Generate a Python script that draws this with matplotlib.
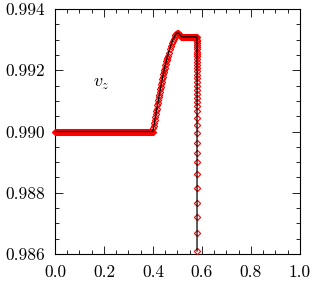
import numpy as np
import matplotlib
matplotlib.use("Agg")
import matplotlib.pyplot as plt
from matplotlib.ticker import MultipleLocator

plt.rcParams["font.family"] = "serif"
plt.rcParams["font.serif"] = ["cmr10", "DejaVu Serif"]
plt.rcParams["mathtext.fontset"] = "cm"
plt.rcParams["axes.unicode_minus"] = False

# Flat part (constant state ahead of the wave), fine grid
x_flat = list(np.round(np.arange(0.0, 0.4, 0.004), 3))
v_flat = [0.990] * len(x_flat)

# Rise
x_rise = [0.400, 0.402, 0.404, 0.406, 0.408, 0.410, 0.412, 0.414, 0.416,
          0.418, 0.420, 0.422, 0.424, 0.426, 0.428, 0.430, 0.432, 0.434,
          0.436, 0.438, 0.440, 0.442, 0.444, 0.446, 0.448, 0.450, 0.452,
          0.454, 0.456, 0.458, 0.460, 0.464, 0.468, 0.472, 0.476, 0.480,
          0.484, 0.488, 0.492, 0.496, 0.500, 0.504, 0.508, 0.512, 0.516,
          0.520]
v_rise = [0.99000, 0.99010, 0.99019, 0.99029, 0.99038, 0.99048, 0.99057,
          0.99066, 0.99075, 0.99085, 0.99094, 0.99103, 0.99112, 0.99120,
          0.99129, 0.99138, 0.99146, 0.99155, 0.99163, 0.99171, 0.99179,
          0.99187, 0.99194, 0.99202, 0.99209, 0.99216, 0.99222, 0.99229,
          0.99235, 0.99241, 0.99247, 0.99258, 0.99269, 0.99279, 0.99288,
          0.99296, 0.99303, 0.99310, 0.99316, 0.99320, 0.99322, 0.99321,
          0.99318, 0.99314, 0.99310, 0.99309]

# Plateau behind the wave
x_plat = [0.524, 0.528, 0.532, 0.536, 0.540, 0.544, 0.548, 0.552, 0.556,
          0.560, 0.564, 0.568, 0.572, 0.576]
v_plat = [0.99309] * len(x_plat)

# Sharp drop at the discontinuity
v_drop = [0.99309, 0.99299, 0.99294, 0.99289, 0.99282, 0.99276, 0.99269,
          0.99261, 0.99253, 0.99245, 0.99237, 0.99227, 0.99217, 0.99207,
          0.99198, 0.99186, 0.99174, 0.99161, 0.99149, 0.99136, 0.99122,
          0.99109, 0.99095, 0.99083, 0.99067, 0.99044, 0.99021, 0.98995,
          0.98962, 0.98931, 0.98900, 0.98861, 0.98816, 0.98768, 0.98722,
          0.98670, 0.98610]
x_drop = [0.580] * len(v_drop)

x = x_flat + x_rise + x_plat + x_drop
v = v_flat + v_rise + v_plat + v_drop

x_ticks = [0.0, 0.2, 0.4, 0.6, 0.8, 1.0]
x_labels = ["0.0", "0.2", "0.4", "0.6", "0.8", "1.0"]
y_ticks = [0.986, 0.988, 0.990, 0.992, 0.994]
y_labels = ["0.986", "0.988", "0.990", "0.992", "0.994"]

fig = plt.figure(figsize=(3.17, 2.82), dpi=100)
ax = fig.add_axes([0.1735, 0.0993, 0.7725, 0.8687])

# markers first, then the line on top so it shows through the dense band
ax.plot(x, v, ls="none", marker="D", ms=3.2, mfc="none",
        mec="red", mew=0.8, clip_on=False, zorder=3)
ax.plot(x, v, color="black", lw=0.9, zorder=4)

ax.text(0.19, 0.99155, r"$v_z$", fontsize=13, ha="center", va="center")

ax.set_xlim(0, 1)
ax.set_ylim(0.986, 0.994)
ax.set_xticks(x_ticks)
ax.set_xticklabels(x_labels)
ax.set_yticks(y_ticks)
ax.set_yticklabels(y_labels)
ax.xaxis.set_minor_locator(MultipleLocator(0.05))
ax.yaxis.set_minor_locator(MultipleLocator(0.0005))
ax.tick_params(which="both", direction="in", top=True, right=True,
               labelsize=12.5, width=0.6)
ax.tick_params(which="major", length=5.5, pad=7)
ax.tick_params(which="minor", length=3)
ax.tick_params(axis="x", which="major", pad=8)
for s in ax.spines.values():
    s.set_linewidth(0.8)

fig.savefig("out.png", dpi=100)
